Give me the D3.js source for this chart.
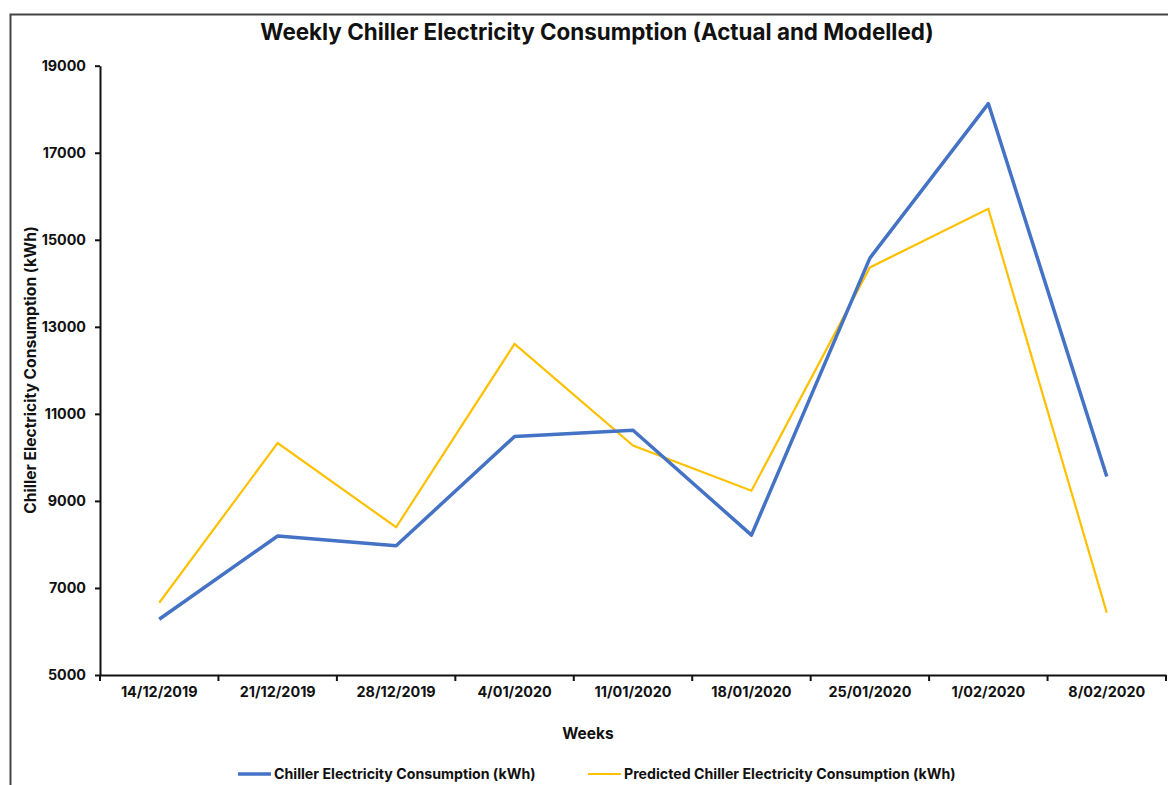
<!DOCTYPE html>
<html>
<head>
<meta charset="utf-8">
<script src="https://cdn.jsdelivr.net/npm/d3@7/dist/d3.min.js"></script>
<style>
    body { margin: 0; background: #fff; }
    text { font-family: Inter, "Noto Sans", sans-serif; font-weight: 700; fill: #111; }
</style>
</head>
<body>
<script>
// Weekly chiller data
var weeks = ["14/12/2019", "21/12/2019", "28/12/2019", "4/01/2020", "11/01/2020",
             "18/01/2020", "25/01/2020", "1/02/2020", "8/02/2020"];
var actualKwh = [6280, 8195, 7970, 10480, 10625, 8215, 14580, 18130, 9560];
var predictedKwh = [6660, 10330, 8395, 12610, 10270, 9235, 14365, 15710, 6430];
var yTicks = [5000, 7000, 9000, 11000, 13000, 15000, 17000, 19000];
var seriesNames = ["Chiller Electricity Consumption (kWh)", "Predicted Chiller Electricity Consumption (kWh)"];

(function () {
    var width = 1168, height = 785;

    var svg = d3.select("body").append("svg")
        .attr("width", width)
        .attr("height", height);

    // chart frame (only top and left edges show in the picture)
    svg.append("path")
        .attr("d", "M10.5," + height + "V14.5H" + width)
        .attr("fill", "none")
        .attr("stroke", "#444")
        .attr("stroke-width", 2);

    var x = d3.scaleBand().domain(weeks).range([100, 1166]).padding(0);
    var y = d3.scaleLinear().domain([5000, 19000]).range([675, 65.7]);

    // title
    svg.append("text")
        .attr("x", 597).attr("y", 40)
        .attr("text-anchor", "middle")
        .style("font-size", "22.4px")
        .text("Weekly Chiller Electricity Consumption (Actual and Modelled)");

    // y axis
    var yAxis = svg.append("g")
        .attr("transform", "translate(100,0)")
        .call(d3.axisLeft(y).tickValues(yTicks).tickFormat(d3.format("d"))
            .tickSize(5).tickSizeOuter(0).tickPadding(9));
    yAxis.select(".domain").attr("stroke", "#111").attr("stroke-width", 2);
    yAxis.selectAll(".tick line").attr("stroke", "#111").attr("stroke-width", 2);
    yAxis.selectAll(".tick text").style("font-size", "14.3px");

    // x axis: labels centred in bands, ticks on the band edges
    var xAxis = svg.append("g")
        .attr("transform", "translate(0,675)")
        .call(d3.axisBottom(x).tickSize(0).tickPadding(12));
    xAxis.select(".domain").attr("stroke", "#111").attr("stroke-width", 2);
    xAxis.selectAll(".tick text").style("font-size", "14.4px");
    xAxis.selectAll(".edge")
        .data(d3.range(weeks.length + 1))
        .enter().append("line")
        .attr("class", "edge")
        .attr("x1", function (i) { return 100 + i * x.step(); })
        .attr("x2", function (i) { return 100 + i * x.step(); })
        .attr("y1", 0).attr("y2", 6)
        .attr("stroke", "#111").attr("stroke-width", 2);

    // axis titles
    svg.append("text")
        .attr("transform", "translate(36,370) rotate(-90)")
        .attr("text-anchor", "middle")
        .style("font-size", "15.6px")
        .text("Chiller Electricity Consumption (kWh)");
    svg.append("text")
        .attr("x", 588).attr("y", 739)
        .attr("text-anchor", "middle")
        .style("font-size", "15.5px")
        .text("Weeks");

    // lines
    var line = d3.line()
        .x(function (d, i) { return x(weeks[i]) + x.bandwidth() / 2; })
        .y(function (d) { return y(d); });

    svg.append("path")
        .datum(predictedKwh)
        .attr("d", line)
        .attr("fill", "none")
        .attr("stroke", "#FFC000")
        .attr("stroke-width", 2.2);

    svg.append("path")
        .datum(actualKwh)
        .attr("d", line)
        .attr("fill", "none")
        .attr("stroke", "#4472C4")
        .attr("stroke-width", 3.5)
        .attr("stroke-linejoin", "round");

    // legend
    var legend = [
        { name: seriesNames[0], color: "#4472C4", w: 3.5, x: 238 },
        { name: seriesNames[1], color: "#FFC000", w: 2.2, x: 588 }
    ];
    var items = svg.selectAll(".legend")
        .data(legend)
        .enter().append("g")
        .attr("class", "legend")
        .attr("transform", function (d) { return "translate(" + d.x + ",774)"; });
    items.append("line")
        .attr("x1", 0).attr("x2", 33)
        .attr("stroke", function (d) { return d.color; })
        .attr("stroke-width", function (d) { return d.w; });
    items.append("text")
        .attr("x", 36).attr("y", 5)
        .style("font-size", "14.2px")
        .text(function (d) { return d.name; });
})();
</script>
</body>
</html>
